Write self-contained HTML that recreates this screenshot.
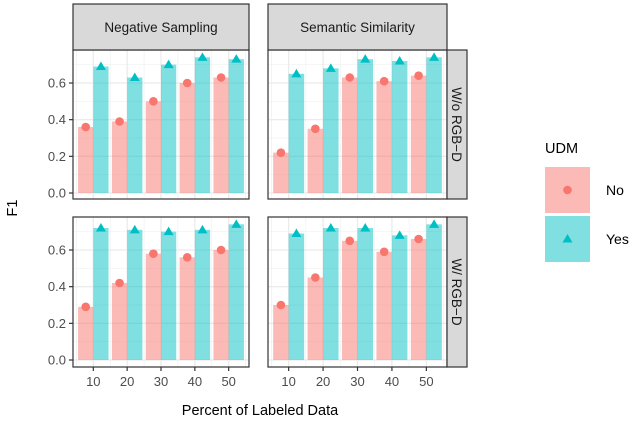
<!DOCTYPE html>
<html><head><meta charset="utf-8"><style>
body{margin:0;background:#fff;font-family:"Liberation Sans",Arial,sans-serif}
svg text{font-family:"Liberation Sans",Arial,sans-serif}
</style></head><body>
<svg id="c" width="640" height="427" xmlns="http://www.w3.org/2000/svg"></svg>
<script>
const categories=["10","20","30","40","50"];
const colFacets=["Negative Sampling","Semantic Similarity"];
const rowFacets=["W/o RGB−D","W/ RGB−D"];
const noNegWo=[0.36,0.39,0.50,0.60,0.63];
const yesNegWo=[0.69,0.63,0.70,0.74,0.73];
const noSemWo=[0.22,0.35,0.63,0.61,0.64];
const yesSemWo=[0.65,0.68,0.73,0.72,0.74];
const noNegW=[0.29,0.42,0.58,0.56,0.60];
const yesNegW=[0.72,0.71,0.70,0.71,0.74];
const noSemW=[0.30,0.45,0.65,0.59,0.66];
const yesSemW=[0.69,0.72,0.72,0.68,0.74];
const yTicks=[0,0.2,0.4,0.6];
const yTickLabels=["0.0","0.2","0.4","0.6"];

const NS="http://www.w3.org/2000/svg";
const svg=document.getElementById("c");
function mk(t,a,p){const e=document.createElementNS(NS,t);for(const k in a)e.setAttribute(k,a[k]);(p||svg).appendChild(e);return e;}
const panelX=[[73,249],[268,447]];
const panelY=[[50,199],[217,367]];
const zeroOff=143; // zero line offset from panel top
const unitPx=110/0.6;
const series=[[ [noNegWo,yesNegWo],[noSemWo,yesSemWo] ],[ [noNegW,yesNegW],[noSemW,yesSemW] ]];
const pink="#f8766d",teal="#00bfc4";

for(let r=0;r<2;r++)for(let c=0;c<2;c++){
  const [x0,x1]=panelX[c],[y0,y1]=panelY[r];
  const zy=y0+zeroOff;
  const y=v=>zy-v*unitPx;
  const bw=(x1-x0)/5.2;
  const xc=i=>x0+(0.6+i)*bw;
  const g=mk("g",{});
  
  
  mk("rect",{x:x0,y:y0,width:x1-x0,height:y1-y0,fill:"#fff"},g);
  // minor grid
  for(let v=0.1;v<0.85;v+=0.2)mk("line",{x1:x0,x2:x1,y1:y(v),y2:y(v),stroke:"#f0f0f0","stroke-width":0.7},g);
  for(let i=0;i<6;i++)mk("line",{x1:x0+(0.6+i-0.5)*bw,x2:x0+(0.6+i-0.5)*bw,y1:y0,y2:y1,stroke:"#f0f0f0","stroke-width":0.7},g);
  yTicks.forEach(v=>mk("line",{x1:x0,x2:x1,y1:y(v),y2:y(v),stroke:"#ebebeb","stroke-width":1.3},g));
  categories.forEach((cat,i)=>mk("line",{x1:xc(i),x2:xc(i),y1:y0,y2:y1,stroke:"#ebebeb","stroke-width":1.3},g));
  const [no,yes]=series[r][c];
  categories.forEach((cat,i)=>{
    const w=bw*0.45;
    const bN=mk("rect",{x:xc(i)-w,y:y(no[i]),width:w,height:zy-y(no[i]),fill:pink,"fill-opacity":0.5},g);
    
    
    const bY=mk("rect",{x:xc(i),y:y(yes[i]),width:w,height:zy-y(yes[i]),fill:teal,"fill-opacity":0.5},g);
    
    
    const pt=mk("circle",{cx:xc(i)-w/2,cy:y(no[i]),r:4.3,fill:pink},g);
    
    
    const tx=xc(i)+w/2,ty=y(yes[i]);
    const tr=mk("polygon",{points:`${tx-5},${ty+3.5} ${tx+5},${ty+3.5} ${tx},${ty-5}`,fill:teal},g);
    
    
  });
  mk("rect",{x:x0,y:y0,width:x1-x0,height:y1-y0,fill:"none",stroke:"#333","stroke-width":1.2},g);
  if(c===0){yTicks.forEach((v,k)=>{
    mk("line",{x1:x0-4,x2:x0,y1:y(v),y2:y(v),stroke:"#333","stroke-width":1.2},g);
    const t=mk("text",{x:x0-7,y:y(v)+4.5,"text-anchor":"end","font-size":13,fill:"#4d4d4d"},g);t.textContent=yTickLabels[k];
    
  });}
  if(r===1){categories.forEach((cat,i)=>{
    mk("line",{x1:xc(i),x2:xc(i),y1:y1,y2:y1+4,stroke:"#333","stroke-width":1.2},g);
    const t=mk("text",{x:xc(i),y:y1+19,"text-anchor":"middle","font-size":13,fill:"#4d4d4d"},g);t.textContent=cat;
    
  });}
  if(r===0){
    mk("rect",{x:x0,y:4,width:x1-x0,height:46,fill:"#d9d9d9",stroke:"#333","stroke-width":1.2},g);
    const t=mk("text",{x:(x0+x1)/2,y:32,"text-anchor":"middle","font-size":13.5,fill:"#1a1a1a"},g);t.textContent=colFacets[c];
    
  }
  if(c===1){
    mk("rect",{x:447,y:y0,width:20,height:y1-y0,fill:"#d9d9d9",stroke:"#333","stroke-width":1.2},g);
    const t=mk("text",{x:0,y:0,"text-anchor":"middle","font-size":13.5,fill:"#1a1a1a",transform:`translate(452,${(y0+y1)/2}) rotate(90)`},g);t.textContent=rowFacets[r];
    
  }
}
let t=mk("text",{x:0,y:0,"text-anchor":"middle","font-size":14.5,fill:"#000",transform:"translate(17,208) rotate(-90)"});t.textContent="F1";

t=mk("text",{x:260,y:415,"text-anchor":"middle","font-size":14.5,fill:"#000"});t.textContent="Percent of Labeled Data";

// legend
t=mk("text",{x:545,y:153,"font-size":14.5,fill:"#000"});t.textContent="UDM";

const lg=[["No",pink,167],["Yes",teal,216]];
lg.forEach(([lab,col,ly],k)=>{
  const g=mk("g",{});
  
  
  mk("rect",{x:545,y:ly,width:45,height:46,fill:col,"fill-opacity":0.5},g);
  if(k===0)mk("circle",{cx:567.5,cy:ly+23,r:4.3,fill:col},g);
  else mk("polygon",{points:`562.5,${ly+26.5} 572.5,${ly+26.5} 567.5,${ly+18}`,fill:col},g);
  const tt=mk("text",{x:606,y:ly+28,"font-size":14,fill:"#000"},g);tt.textContent=lab;
});
</script>
</body></html>
